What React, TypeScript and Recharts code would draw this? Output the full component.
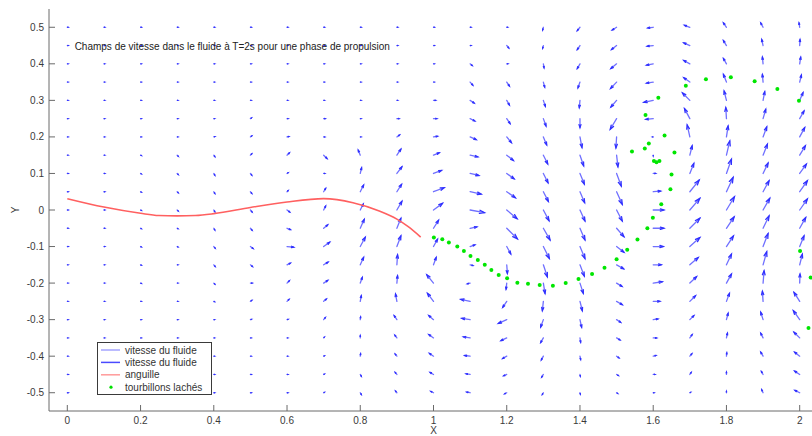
import React from 'react';
import { ComposedChart, Line, Scatter, XAxis, YAxis, ReferenceDot, Legend, Label } from 'recharts';

// Grid of the velocity field (quiver)
const X_GRID = [0, 0.1, 0.2, 0.3, 0.4, 0.5, 0.6, 0.7, 0.8, 0.9, 1.0, 1.1, 1.2, 1.3, 1.4, 1.5, 1.6, 1.7, 1.8, 1.9, 2.0];
const Y_GRID = [0.5, 0.45, 0.4, 0.35, 0.3, 0.25, 0.2, 0.15, 0.1, 0.05, 0, -0.05, -0.1, -0.15, -0.2, -0.25, -0.3, -0.35, -0.4, -0.45, -0.5];

// velocity [u, v] per column (x), rows from y=0.5 down to y=-0.5 (arbitrary units)
const C00 = Array.from({ length: 21 }, () => [2, 0]);
const C01 = Array.from({ length: 21 }, () => [2, 0]);
const C02 = [[2,0],[2,0],[2,0],[2,0],[2,0],[2,0],[2,0],[2,-1],[2,-1],[2,-1],[2,-1],[2,-1],[2,-1],[2,-1],[2,-1],[2,0],[2,0],[2,0],[2,0],[2,0],[2,0]];
const C03 = [[2,0],[2,0],[2,0],[2,0],[2,0],[2,0],[2,0],[3,-3],[3,-3],[3,-3],[3,-3],[2,-1],[2,-1],[2,0],[2,0],[2,0],[2,0],[2,0],[2,0],[2,0],[2,0]];
const C04 = [[2,0],[2,0],[2,0],[2,0],[2,0],[2,0],[3,1],[3,-4],[3,-5],[3,-5],[3,-5],[3,-5],[4,-5],[4,-5],[3,-3],[2,-1],[2,0],[2,0],[2,0],[2,0],[2,0]];
const C05 = [[2,0],[2,0],[2,0],[2,0],[2,0],[3,2],[4,3],[4,4],[4,-5],[4,-5],[5,-6],[5,-6],[8,-6],[6,-5],[5,0],[4,3],[3,1],[2,0],[2,0],[2,0],[2,0]];
const C06 = [[2,0],[2,0],[2,0],[2,0],[2,0],[3,0],[5,1],[7,7],[3,2],[3,3],[8,-6],[10,-4],[20,-2],[10,5],[7,7],[6,6],[3,1],[2,0],[2,0],[2,0],[2,0]];
const C07 = [[2,0],[2,0],[2,0],[2,0],[2,0],[4,0],[3,0],[10,-10],[3,0],[6,10],[6,12],[12,10],[18,13],[13,8],[12,8],[8,7],[5,6],[2,2],[2,1],[2,1],[2,1]];
const C08 = [[2,0],[2,0],[2,0],[2,0],[2,0],[2,0],[2,0],[-6,15],[4,17],[10,20],[9,18],[12,27],[15,28],[10,22],[6,17],[3,17],[1,8],[0,7],[1,7],[3,-5],[3,-5]];
const C09 = [[2,0],[2,0],[2,0],[2,0],[2,0],[6,0],[8,6],[12,18],[15,20],[14,22],[15,26],[12,30],[12,32],[2,30],[2,22],[-4,22],[-8,12],[-6,8],[-5,6],[-5,6],[-4,5]];
const C10 = [[2,0],[2,0],[2,0],[2,0],[6,0],[10,0],[12,2],[17,7],[24,9],[32,12],[27,20],[15,24],[12,22],[8,22],[-20,25],[-18,24],[-14,12],[-14,10],[-12,8],[-10,6],[-8,4]];
const C11 = [[2,0],[2,0],[6,-5],[8,-9],[12,-8],[14,-7],[18,-8],[23,-5],[26,-6],[33,-7],[43,-8],[20,4],[14,5],[8,-2],[-8,-2],[-28,6],[-25,4],[-20,3],[-16,2],[-12,2],[-10,2]];
const C12 = [[2,0],[6,-7],[3,0],[8,-12],[8,-14],[10,-15],[14,-17],[20,-16],[22,-16],[26,-18],[31,-26],[32,-32],[12,-22],[2,-26],[-2,-18],[-12,-18],[-25,-11],[-17,-8],[-12,-7],[-9,-4],[-6,-3]];
const C13 = [[-2,-8],[-2,-8],[2,-12],[4,-15],[6,-18],[8,-22],[10,-24],[13,-26],[14,-28],[15,-29],[17,-32],[20,-35],[18,-36],[12,-36],[5,-31],[-3,-28],[-8,-22],[-8,-14],[-6,-11],[-5,-8],[-3,-5]];
const C14 = [[-8,-10],[-8,-12],[-8,-14],[-6,-17],[-2,-22],[0,-27],[6,-32],[11,-32],[13,-32],[14,-33],[15,-33],[15,-35],[15,-36],[13,-34],[10,-31],[7,-28],[5,-23],[2,-13],[2,-10],[1,-5],[1,-4]];
const C15 = [[-13,-8],[-15,-12],[-17,-14],[-18,-19],[-17,-20],[-19,-32],[-2,-33],[4,-35],[14,-38],[17,-38],[17,-33],[22,-25],[22,-17],[21,-12],[16,-10],[17,-10],[12,-8],[10,-6],[7,-5],[5,-3],[3,-2]];
const C16 = [[-16,-2],[-18,-2],[-20,-4],[-20,-3],[-28,-6],[-22,-2],[-2,0],[0,-2],[7,0],[22,2],[32,0],[32,0],[30,0],[24,0],[27,4],[20,0],[14,2],[10,0],[8,2],[5,0],[2,0]];
const C17 = [[-16,6],[-18,8],[-18,10],[-18,13],[-22,22],[-16,30],[-8,36],[7,28],[12,30],[28,35],[30,35],[30,30],[30,27],[25,22],[20,19],[17,17],[12,12],[7,10],[6,7],[4,6],[2,1]];
const C18 = [[-9,13],[-9,15],[-9,16],[-9,23],[-7,28],[-2,33],[5,33],[10,43],[15,43],[20,43],[24,40],[23,34],[21,32],[15,32],[15,27],[9,24],[5,19],[3,14],[1,10],[0,7],[0,4]];
const C19 = [[-7,13],[-4,18],[-2,20],[-2,23],[5,26],[8,28],[11,30],[13,33],[15,31],[18,33],[20,35],[18,37],[15,39],[11,39],[3,37],[-2,30],[-7,22],[-7,14],[-7,12],[-5,9],[-4,9]];
const C20 = [[-2,13],[1,18],[3,20],[5,21],[10,23],[13,23],[15,28],[17,28],[20,28],[23,33],[23,33],[18,32],[13,32],[8,32],[1,27],[-17,27],[-19,27],[-17,17],[-15,12],[-15,10],[-14,7]];
const VEL_COLUMNS = [C00, C01, C02, C03, C04, C05, C06, C07, C08, C09, C10, C11, C12, C13, C14, C15, C16, C17, C18, C19, C20];

// quiver scaling (velocity units -> axis units) and MATLAB arrow-head parameters
const QUIVER_SCALE = 1 / 1100;
const HEAD_ALPHA = 0.33;
const HEAD_BETA = 0.33;

// eel body (anguille)
const EEL_X = [0, 0.1, 0.2, 0.25, 0.3, 0.35, 0.4, 0.5, 0.6, 0.7, 0.78, 0.85, 0.9, 0.93, 0.965];
const EEL_Y = [0.031, 0.008, -0.009, -0.015, -0.016, -0.015, -0.010, 0.007, 0.022, 0.031, 0.020, -0.002, -0.025, -0.045, -0.074];

// shed vortices (tourbillons lâchés)
const VORTEX_X = [1.001, 1.024, 1.042, 1.065, 1.083, 1.101, 1.121, 1.140, 1.158, 1.178, 1.201, 1.229, 1.258, 1.290, 1.326, 1.361, 1.396, 1.433, 1.467, 1.500, 1.529, 1.557, 1.584, 1.599, 1.622, 1.647, 1.650, 1.602, 1.609, 1.617, 1.631, 1.658, 1.588, 1.577, 1.542, 1.579, 1.614, 1.689, 1.744, 1.812, 1.877, 1.939, 1.998, 2.001, 2.030, 2.024];
const VORTEX_Y = [-0.075, -0.080, -0.089, -0.100, -0.112, -0.126, -0.137, -0.150, -0.164, -0.178, -0.187, -0.199, -0.202, -0.205, -0.207, -0.200, -0.189, -0.175, -0.158, -0.135, -0.109, -0.081, -0.050, -0.021, 0.016, 0.057, 0.097, 0.134, 0.131, 0.134, 0.204, 0.157, 0.182, 0.168, 0.160, 0.260, 0.307, 0.340, 0.358, 0.363, 0.352, 0.331, 0.299, -0.112, -0.185, -0.323];

const X_TICKS = [0, 0.2, 0.4, 0.6, 0.8, 1, 1.2, 1.4, 1.6, 1.8, 2];
const Y_TICKS = [-0.5, -0.4, -0.3, -0.2, -0.1, 0, 0.1, 0.2, 0.3, 0.4, 0.5];
const X_DOMAIN = [-0.05, 2.05];
const Y_DOMAIN = [-0.55, 0.55];

const TITLE = 'Champs de vitesse dans le fluide à T=2s pour une phase de propulsion';
const TITLE_POS = { x: 0.02, y: 0.447 };

const LEGEND_ITEMS = [
  { label: 'vitesse du fluide', color: '#a5a5ff', kind: 'line' },
  { label: 'vitesse du fluide', color: '#4a4aff', kind: 'line' },
  { label: 'anguille', color: '#ff9a9a', kind: 'line' },
  { label: 'tourbillons lachés', color: '#00e000', kind: 'dot' },
];

type Pt = { x: number; y: number | null };
const SHAFTS: Pt[] = [];
const HEADS: Pt[] = [];
X_GRID.forEach((x0, ci) => {
  Y_GRID.forEach((y0, ri) => {
    const [a, b] = VEL_COLUMNS[ci][ri];
    const u = a * QUIVER_SCALE;
    const v = b * QUIVER_SCALE;
    const tx = x0 + u;
    const ty = y0 + v;
    SHAFTS.push({ x: x0, y: y0 }, { x: tx, y: ty }, { x: tx, y: null });
    HEADS.push(
      { x: tx - HEAD_ALPHA * (u + HEAD_BETA * v), y: ty - HEAD_ALPHA * (v - HEAD_BETA * u) },
      { x: tx, y: ty },
      { x: tx - HEAD_ALPHA * (u - HEAD_BETA * v), y: ty - HEAD_ALPHA * (v + HEAD_BETA * u) },
      { x: tx, y: null },
    );
  });
});

const EEL = EEL_X.map((x, i) => ({ x, y: EEL_Y[i] }));
const VORTEX = VORTEX_X.map((x, i) => ({ x, y: VORTEX_Y[i] }));

const FONT = '"Liberation Sans", Arial, Helvetica, sans-serif';
const AXIS_COLOR = '#6a6a6a';
const TEXT_COLOR = '#3a3a3a';

const LegendBox = () => (
  <svg width={116} height={54} style={{ display: 'block' }}>
    <rect x={0.5} y={0.5} width={114} height={52} fill="#fff" stroke="#3a3a3a" strokeWidth={1} />
    {LEGEND_ITEMS.map((it, i) => {
      const cy = 8 + i * 12.4;
      return (
        <g key={i}>
          {it.kind === 'line' ? (
            <line x1={4} x2={23} y1={cy} y2={cy} stroke={it.color} strokeWidth={1.5} />
          ) : (
            <circle cx={14} cy={cy} r={1.6} fill={it.color} />
          )}
          <text x={28} y={cy} dominantBaseline="central" fontSize={10} fontFamily={FONT} fill="#333">
            {it.label}
          </text>
        </g>
      );
    })}
  </svg>
);

export default function App() {
  return (
    <div style={{ position: 'absolute', left: 0, top: 0, width: 812, height: 436, overflow: 'hidden', background: '#fff' }}>
      <ComposedChart width={818} height={436} margin={{ top: 9, right: 0, bottom: 0, left: 0 }} style={{ fontFamily: FONT }}>
        <XAxis
          xAxisId="b"
          dataKey="x"
          type="number"
          domain={X_DOMAIN}
          ticks={X_TICKS}
          allowDataOverflow
          height={25}
          stroke={AXIS_COLOR}
          tickSize={-6}
          tickMargin={12}
          tick={{ fill: TEXT_COLOR, fontSize: 10, fontFamily: FONT }}
        >
          <Label value="X" position="insideBottom" offset={2} fill={TEXT_COLOR} fontSize={10} fontFamily={FONT} />
        </XAxis>
        <XAxis
          xAxisId="t"
          orientation="top"
          type="number"
          domain={X_DOMAIN}
          ticks={X_TICKS}
          allowDataOverflow
          height={0}
          stroke={AXIS_COLOR}
          tickSize={-6}
          tick={false}
        />
        <YAxis
          yAxisId="l"
          type="number"
          domain={Y_DOMAIN}
          ticks={Y_TICKS}
          allowDataOverflow
          width={49}
          stroke={AXIS_COLOR}
          tickSize={-6}
          tickMargin={11}
          tick={{ fill: TEXT_COLOR, fontSize: 10, fontFamily: FONT }}
        >
          <Label
            content={(p: any) => {
              const vb = p.viewBox || { x: 0, y: 0, width: 49, height: 400 };
              const cx = vb.x + 15;
              const cy = vb.y + vb.height / 2;
              return (
                <text x={cx} y={cy} transform={`rotate(-90 ${cx} ${cy})`} textAnchor="middle" dominantBaseline="central" fontSize={10} fontFamily={FONT} fill={TEXT_COLOR}>
                  Y
                </text>
              );
            }}
          />
        </YAxis>
        <YAxis
          yAxisId="r"
          orientation="right"
          type="number"
          domain={Y_DOMAIN}
          ticks={Y_TICKS}
          allowDataOverflow
          width={0}
          stroke={AXIS_COLOR}
          tickSize={-6}
          tick={false}
        />
        <Line
          xAxisId="b"
          yAxisId="l"
          data={SHAFTS}
          dataKey="y"
          stroke="#7070ff"
          strokeWidth={1.3}
          strokeLinecap="round"
          dot={false}
          activeDot={false}
          connectNulls={false}
          isAnimationActive={false}
          legendType="none"
        />
        <Line
          xAxisId="b"
          yAxisId="l"
          data={HEADS}
          dataKey="y"
          stroke="#3030ff"
          strokeWidth={1.3}
          strokeLinecap="round"
          dot={false}
          activeDot={false}
          connectNulls={false}
          isAnimationActive={false}
          legendType="none"
        />
        <Line
          xAxisId="b"
          yAxisId="l"
          data={EEL}
          dataKey="y"
          type="monotone"
          stroke="#ff6060"
          strokeWidth={1.6}
          dot={false}
          activeDot={false}
          isAnimationActive={false}
          legendType="none"
        />
        <Scatter
          xAxisId="b"
          yAxisId="l"
          data={VORTEX}
          dataKey="y"
          isAnimationActive={false}
          legendType="none"
          shape={(p: any) => <circle cx={p.cx} cy={p.cy} r={2} fill="#00e600" />}
        />
        <ReferenceDot
          xAxisId="b"
          yAxisId="l"
          x={TITLE_POS.x}
          y={TITLE_POS.y}
          r={0}
          ifOverflow="visible"
          shape={(p: any) => (
            <text x={p.cx} y={p.cy} dominantBaseline="central" fontSize={10} fontFamily={FONT} fill="#222">
              {TITLE}
            </text>
          )}
        />
        <Legend
          layout="vertical"
          align="center"
          verticalAlign="middle"
          wrapperStyle={{ left: 97, top: 342, width: 116, height: 54 }}
          content={() => <LegendBox />}
        />
      </ComposedChart>
    </div>
  );
}
